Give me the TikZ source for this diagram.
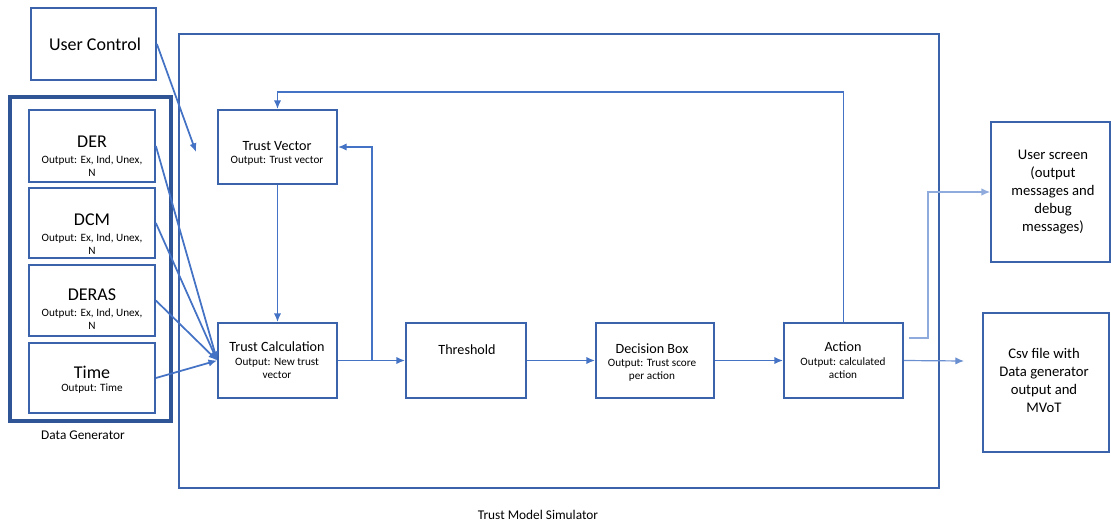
\documentclass[tikz,border=0pt]{standalone}
\usepackage{fontspec}
\setmainfont{Carlito}
\usetikzlibrary{arrows.meta}
\definecolor{boxblue}{HTML}{3A63AC}
\definecolor{dgblue}{HTML}{2F5597}
\definecolor{lineblue}{HTML}{4472C4}
\definecolor{lightblue}{HTML}{8FAADC}
\definecolor{midblue}{HTML}{6A8FD0}
\begin{document}
\begin{tikzpicture}[x=0.75pt,y=-0.75pt,
  box/.style={draw=boxblue,line width=1.3pt,inner sep=0pt,fill=none},
  conn/.style={draw=lineblue,line width=1.3pt,-{Latex[length=6.5pt,width=5.5pt]}},
  thinconn/.style={draw=#1,line width=0.9pt,-{Latex[length=6.5pt,width=5.5pt]}},
  big/.style={inner sep=0pt,font=\fontsize{13.5}{16}\selectfont},
  mid/.style={inner sep=0pt,font=\fontsize{10.6}{13}\selectfont},
  sm/.style={inner sep=0pt,align=center,font=\fontsize{8.4}{9.75}\selectfont},
  ext/.style={inner sep=0pt,align=center,font=\fontsize{11}{13.5}\selectfont},
  lab/.style={inner sep=0pt,font=\fontsize{10}{12}\selectfont},
]
\useasboundingbox (0,0) rectangle (1111,525);

% Trust Model Simulator frame
\node[box,minimum width=570pt,minimum height=340.5pt] (tms) at (559,261) {};
\node[lab] (tmslab) at (538,515) {Trust Model Simulator};

% User control
\node[box,minimum width=93.75pt,minimum height=54pt] (uc) at (93.5,44) {};
\node[big] (uct) at (95,44) {User Control};
\coordinate (ucend) at (196,152);

% Data generator
\node[draw=dgblue,line width=3pt,minimum width=120.75pt,minimum height=243pt,inner sep=0pt] (dg) at (90.5,259) {};
\node[lab] (dglab) at (83,435) {Data Generator};

\node[box,minimum width=94.5pt,minimum height=54pt] (der) at (92,146) {};
\node[big] (dert) at (92,142) {DER};
\node[sm] (dero) at (92,166.5) {Output: Ex, Ind, Unex,\\N};

\node[box,minimum width=94.5pt,minimum height=52.5pt] (dcm) at (92,223) {};
\node[big] (dcmt) at (92,220) {DCM};
\node[sm] (dcmo) at (92,244) {Output: Ex, Ind, Unex,\\N};

\node[box,minimum width=94.5pt,minimum height=53.25pt] (deras) at (92,300.5) {};
\node[big] (derast) at (92,295) {DERAS};
\node[sm] (deraso) at (92,319.5) {Output: Ex, Ind, Unex,\\N};

\node[box,minimum width=94.5pt,minimum height=52.5pt] (time) at (92,378) {};
\node[big] (timet) at (92,372) {Time};
\node[sm] (timeo) at (92,389) {Output: Time};

% Inner blocks
\node[box,minimum width=89.25pt,minimum height=55.5pt] (tv) at (277.5,147) {};
\node[mid] (tvt) at (277,146) {Trust Vector};
\node[sm] (tvo) at (277,161) {Output: Trust vector};

\node[box,minimum width=89.25pt,minimum height=56.25pt] (tc) at (277.5,360.5) {};
\node[mid] (tct) at (277,347) {Trust Calculation};
\node[sm] (tco) at (277,368.5) {Output: New trust\\vector};

\node[box,minimum width=90pt,minimum height=56.25pt] (th) at (466,360.5) {};
\node[mid] (tht) at (467,350) {Threshold};

\node[box,minimum width=88.5pt,minimum height=56.25pt] (db) at (655,360.5) {};
\node[mid] (dbt) at (652,349) {Decision Box};
\node[sm] (dbo) at (652,370.5) {Output: Trust score\\per action};

\node[box,minimum width=89.25pt,minimum height=56.25pt] (ac) at (843.5,360.5) {};
\node[mid] (act) at (843,347) {Action};
\node[sm] (aco) at (843,368.5) {Output: calculated\\action};

% Outputs
\node[box,minimum width=89.25pt,minimum height=105pt] (us) at (1050.5,192) {};
\node[ext] (ust) at (1053,192) {User screen\\(output\\messages and\\debug\\messages)};

\node[box,minimum width=94.5pt,minimum height=104.25pt] (csv) at (1046,382.5) {};
\node[ext] (csvt) at (1044,380) {Csv file with\\Data generator\\output and\\MVoT};

% Connectors
\draw[conn] (uc.east) -- (ucend);
\draw[conn] (der.east) -- (tc.west);
\draw[conn] (dcm.east) -- (tc.west);
\draw[conn] (deras.east) -- (tc.west);
\draw[conn] (time.east) -- (tc.west);

\draw[conn] (tv.south) -- (tc.north);
\draw[conn] (tc.east) -- (th.west);
\coordinate (br) at (372,360.5);
\draw[conn] (br) |- (tv.east);
\draw[conn] (th.east) -- (db.west);
\draw[conn] (db.east) -- (ac.west);
\draw[conn] (ac.north) -- ++(0,-230) -| (tv.north);

\coordinate (usstart) at (909,338);
\draw[thinconn=lightblue] (usstart) -- (928,338) |- (us.west);
\coordinate (csvend) at (964,361);
\draw[thinconn=midblue] (ac.east) -- (csvend);
\end{tikzpicture}
\end{document}
